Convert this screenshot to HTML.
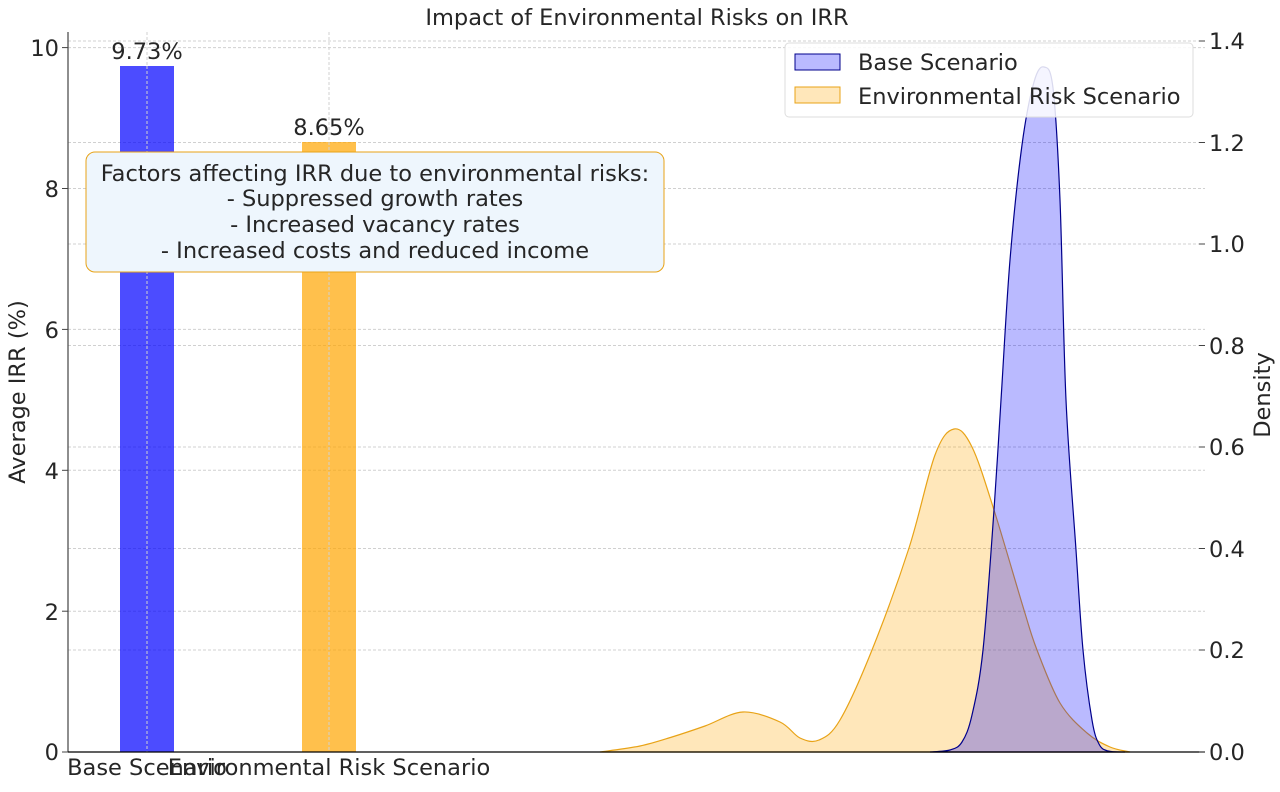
<!DOCTYPE html>
<html><head><meta charset="utf-8"><style>
body{margin:0;background:#fff;}
svg text{font-family:"DejaVu Sans","Liberation Sans",sans-serif;fill:#262626;}
</style></head><body>
<svg id="s" width="1280" height="787" xmlns="http://www.w3.org/2000/svg">
<rect width="1280" height="787" fill="#fff"/>
<g stroke="#d0d0d0" stroke-width="1" stroke-dasharray="3,2">
<line x1="68" x2="1205" y1="47.6" y2="47.6"/><line x1="68" x2="1205" y1="188.5" y2="188.5"/><line x1="68" x2="1205" y1="329.4" y2="329.4"/><line x1="68" x2="1205" y1="470.3" y2="470.3"/><line x1="68" x2="1205" y1="611.2" y2="611.2"/>
<line x1="68" x2="1205" y1="41" y2="41"/><line x1="68" x2="1205" y1="142.5" y2="142.5"/><line x1="68" x2="1205" y1="244" y2="244"/><line x1="68" x2="1205" y1="345.5" y2="345.5"/><line x1="68" x2="1205" y1="447" y2="447"/><line x1="68" x2="1205" y1="548.5" y2="548.5"/><line x1="68" x2="1205" y1="650" y2="650"/>
<line x1="147" x2="147" y1="32" y2="752"/><line x1="329" x2="329" y1="32" y2="752"/>
</g>
<rect x="120" y="66" width="54" height="686" fill="#0000ff" fill-opacity="0.7"/>
<rect x="302" y="142" width="54" height="610" fill="#ffa500" fill-opacity="0.7"/>
<line x1="147" x2="147" y1="66" y2="752" stroke="#d0d0d0" stroke-dasharray="3,2"/>
<line x1="329" x2="329" y1="142" y2="752" stroke="#d0d0d0" stroke-dasharray="3,2"/>
<g font-size="22.5" text-anchor="middle">
<text x="147" y="59">9.73%</text>
<text x="329" y="135">8.65%</text></g>
<path id="env" fill="#ffa500" fill-opacity="0.27" stroke="#e8a317" stroke-width="1.2"/>
<path id="base" fill="#0000ff" fill-opacity="0.27" stroke="#00008b" stroke-width="1.2"/>
<line x1="68" x2="68" y1="32" y2="752" stroke="#444" stroke-width="1.2"/>
<line x1="68" x2="1205" y1="752" y2="752" stroke="#000" stroke-width="1.2"/>
<g stroke="#444"><line x1="62" x2="68" y1="47.6" y2="47.6"/><line x1="62" x2="68" y1="188.5" y2="188.5"/><line x1="62" x2="68" y1="329.4" y2="329.4"/><line x1="62" x2="68" y1="470.3" y2="470.3"/><line x1="62" x2="68" y1="611.2" y2="611.2"/><line x1="62" x2="68" y1="752" y2="752"/>
<line x1="1199" x2="1205" y1="41" y2="41"/><line x1="1199" x2="1205" y1="142.5" y2="142.5"/><line x1="1199" x2="1205" y1="244" y2="244"/><line x1="1199" x2="1205" y1="345.5" y2="345.5"/><line x1="1199" x2="1205" y1="447" y2="447"/><line x1="1199" x2="1205" y1="548.5" y2="548.5"/><line x1="1199" x2="1205" y1="650" y2="650"/><line x1="1199" x2="1205" y1="752" y2="752"/></g>
<g font-size="22.5" text-anchor="end"><text x="59" y="56">10</text><text x="59" y="197">8</text><text x="59" y="338">6</text><text x="59" y="479">4</text><text x="59" y="620">2</text><text x="59" y="760">0</text></g>
<g font-size="22.5"><text x="1209" y="49">1.4</text><text x="1209" y="151">1.2</text><text x="1209" y="252">1.0</text><text x="1209" y="354">0.8</text><text x="1209" y="455">0.6</text><text x="1209" y="557">0.4</text><text x="1209" y="658">0.2</text><text x="1209" y="760">0.0</text></g>
<g font-size="22.5" text-anchor="middle"><text x="147" y="775">Base Scenario</text><text x="329" y="775">Environmental Risk Scenario</text></g>
<text x="637" y="25" font-size="22.5" text-anchor="middle">Impact of Environmental Risks on IRR</text>
<text transform="translate(25,392) rotate(-90)" font-size="22.5" text-anchor="middle">Average IRR (%)</text>
<text transform="translate(1270,395) rotate(-90)" font-size="22.5" text-anchor="middle">Density</text>
<rect x="86" y="152" width="578" height="120" rx="9" fill="#eef6fd" stroke="#e8a317" stroke-width="1"/>
<g font-size="22.5" text-anchor="middle"><text x="375" y="181">Factors affecting IRR due to environmental risks:</text><text x="375" y="206">- Suppressed growth rates</text><text x="375" y="232">- Increased vacancy rates</text><text x="375" y="258">- Increased costs and reduced income</text></g>
<rect x="785" y="43" width="408" height="74" rx="4" fill="#fff" fill-opacity="0.85" stroke="#ddd"/>
<rect x="795" y="54" width="45" height="16" fill="#0000ff" fill-opacity="0.27" stroke="#00008b"/>
<rect x="795" y="87" width="45" height="16" fill="#ffa500" fill-opacity="0.27" stroke="#e8a317"/>
<g font-size="22.5"><text x="858" y="70">Base Scenario</text><text x="858" y="104">Environmental Risk Scenario</text></g>
</svg>
<script>
function cr(p){let d="M"+p[0][0]+","+p[0][1];for(let i=0;i<p.length-1;i++){const a=p[i-1]||p[i],b=p[i],c=p[i+1],e=p[i+2]||c;d+=" C"+(b[0]+(c[0]-a[0])/6)+","+(b[1]+(c[1]-a[1])/6)+" "+(c[0]-(e[0]-b[0])/6)+","+(c[1]-(e[1]-b[1])/6)+" "+c[0]+","+c[1];}return d;}
const env=[[600,752],[640,746],[672,737],[705,726],[743,712],[780,722],[800,738],[819,740],[840,720],[872,650],[909,548],[935,455],[954,429],[972,447],[994,510],[1024,610],[1037,650],[1060,703],[1087,733],[1110,747],[1130,752]];
const base=[[930,752],[950,750],[962,742],[972,715],[983,650],[994,510],[1001,400],[1010,260],[1022,145],[1034,82],[1044,67],[1053,88],[1060,200],[1066,400],[1076,550],[1083,650],[1092,720],[1099,744],[1108,751],[1125,752]];
document.getElementById("env").setAttribute("d",cr(env)+" Z");
document.getElementById("base").setAttribute("d",cr(base)+" Z");
</script>
</body></html>
